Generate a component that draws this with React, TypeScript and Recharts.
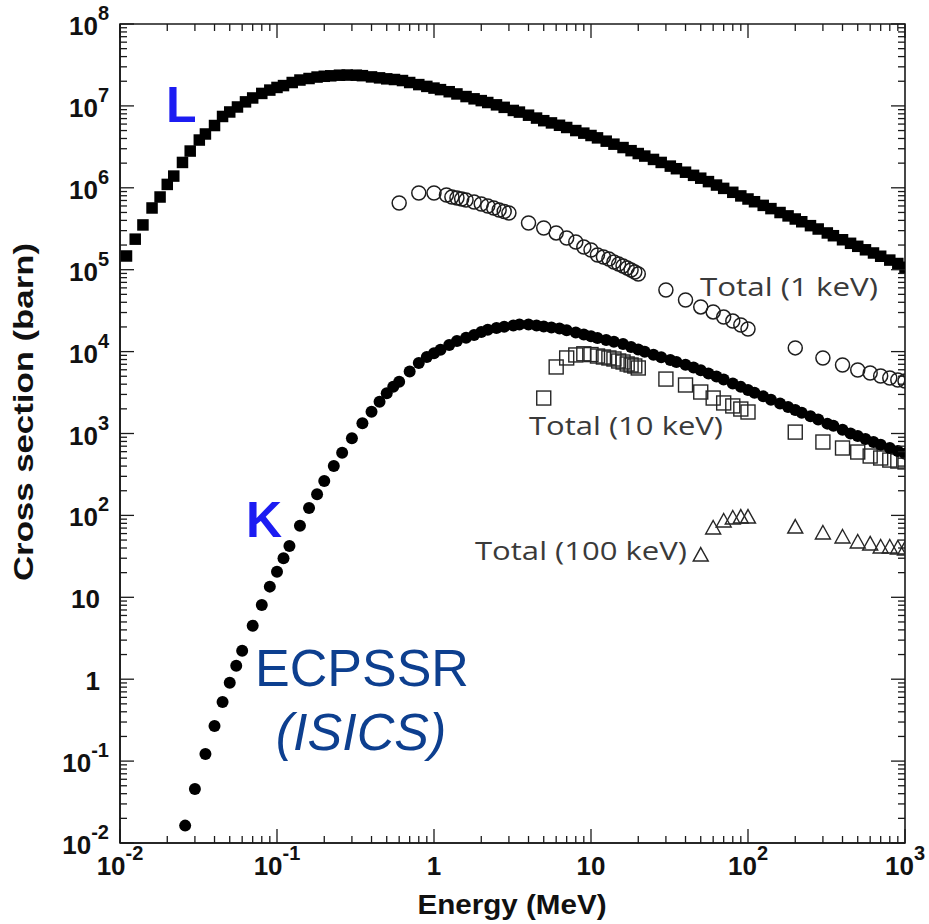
import React from 'react';
import { ScatterChart, Scatter, XAxis, YAxis, ReferenceArea } from 'recharts';

// ---------- data (energy in MeV, cross section in barn) ----------
const lEnergy = [
  0.011, 0.0125, 0.014, 0.016, 0.018, 0.02, 0.022, 0.025, 0.028, 0.032, 0.035, 0.04, 0.045, 0.05, 0.056, 0.063, 0.07, 0.08, 0.09,
  0.1, 0.11, 0.125, 0.14, 0.16, 0.18, 0.2, 0.22, 0.25, 0.28, 0.32, 0.35, 0.4, 0.45, 0.5, 0.56, 0.63, 0.7, 0.8, 0.9,
  1, 1.1, 1.25, 1.4, 1.6, 1.8, 2, 2.2, 2.5, 2.8, 3.2, 3.5, 4, 4.5, 5, 5.6, 6.3, 7, 8, 9,
  10, 11, 12.5, 14, 16, 18, 20, 22, 25, 28, 32, 35, 40, 45, 50, 56, 63, 70, 80, 90,
  100, 110, 125, 140, 160, 180, 200, 220, 250, 280, 320, 350, 400, 450, 500, 560, 630, 700, 800, 900,
  1000,
];
const lSigma = [
  1.47e5, 2.36e5, 3.52e5, 5.67e5, 7.72e5, 1.1e6, 1.39e6, 2.04e6, 2.81e6, 3.83e6, 4.54e6, 5.76e6, 7.43e6, 8.43e6, 9.7e6, 1.12e7, 1.25e7, 1.42e7, 1.56e7,
  1.68e7, 1.77e7, 1.93e7, 2.07e7, 2.16e7, 2.25e7, 2.3e7, 2.33e7, 2.37e7, 2.38e7, 2.37e7, 2.34e7, 2.26e7, 2.2e7, 2.14e7, 2.1e7, 2.04e7, 1.93e7, 1.82e7, 1.73e7,
  1.65e7, 1.58e7, 1.49e7, 1.4e7, 1.3e7, 1.22e7, 1.16e7, 1.1e7, 1.03e7, 9.6e6, 8.8e6, 8.4e6, 7.7e6, 7.1e6, 6.6e6, 6.2e6, 5.8e6, 5.45e6, 5.0e6, 4.65e6,
  4.35e6, 4.07e6, 3.71e6, 3.41e6, 3.1e6, 2.84e6, 2.62e6, 2.44e6, 2.22e6, 2.04e6, 1.84e6, 1.71e6, 1.55e6, 1.42e6, 1.31e6, 1.19e6, 1.08e6, 9.84e5, 8.81e5, 7.96e5,
  7.3e5, 6.76e5, 6.1e5, 5.57e5, 4.99e5, 4.54e5, 4.16e5, 3.85e5, 3.45e5, 3.14e5, 2.81e5, 2.6e5, 2.32e5, 2.1e5, 1.93e5, 1.75e5, 1.6e5, 1.46e5, 1.31e5, 1.19e5,
  1.07e5,
];

const kEnergy = [
  0.026, 0.03, 0.035, 0.04, 0.045, 0.05, 0.055, 0.06, 0.07, 0.08, 0.09, 0.1, 0.11, 0.12, 0.14, 0.16, 0.18, 0.2, 0.23, 0.26,
  0.3, 0.35, 0.4, 0.45, 0.5, 0.55, 0.6, 0.7, 0.8, 0.9,
  1, 1.1, 1.25, 1.4, 1.6, 1.8, 2, 2.2, 2.5, 2.8, 3.2, 3.5, 4, 4.5, 5, 5.6, 6.3, 7, 8, 9,
  10, 11, 12.5, 14, 16, 18, 20, 22, 25, 28, 32, 35, 40, 45, 50, 56, 63, 70, 80, 90,
  100, 110, 125, 140, 160, 180, 200, 220, 250, 280, 320, 350, 400, 450, 500, 560, 630, 700, 800, 900,
  1000,
];
const kSigma = [
  0.0163, 0.0456, 0.122, 0.268, 0.527, 0.906, 1.46, 2.23, 4.5, 8.05, 13.5, 20.5, 29.9, 42.3, 74.8, 123, 181, 263, 401, 583,
  873, 1333, 1845, 2445, 3097, 3727, 4290, 5710, 7260, 8590,
  9550, 1.05e4, 1.2e4, 1.35e4, 1.48e4, 1.6e4, 1.73e4, 1.85e4, 1.94e4, 2.01e4, 2.08e4, 2.14e4, 2.14e4, 2.08e4, 2.03e4, 1.97e4, 1.91e4, 1.82e4, 1.71e4, 1.62e4,
  1.54e4, 1.47e4, 1.39e4, 1.32e4, 1.24e4, 1.14e4, 1.06e4, 9970, 9140, 8510, 7890, 7480, 6930, 6410, 5910, 5420, 4950, 4550, 4080, 3710,
  3400, 3150, 2840, 2590, 2320, 2110, 1940, 1790, 1620, 1480, 1320, 1240, 1110, 1000, 931, 859, 789, 731, 665, 611,
  566,
];

const total1Energy = [
  0.6, 0.8, 1.0, 1.2, 1.3, 1.4, 1.5, 1.6, 1.8, 2.0, 2.2, 2.4, 2.6, 2.8, 3.0,
  4, 5, 6, 7, 8, 9, 10,
  11, 12, 13, 14, 15, 16, 17, 18, 19, 20,
  30, 40, 50, 60, 70, 80, 90, 100,
  200, 300, 400, 500, 600, 700, 800, 900, 1000,
];
const total1Sigma = [
  6.52e5, 8.64e5, 8.64e5, 8.17e5, 7.72e5, 7.5e5, 7.3e5, 7.1e5, 6.71e5, 6.34e5, 6.0e5, 5.67e5, 5.36e5, 5.14e5, 4.92e5,
  3.72e5, 3.23e5, 2.81e5, 2.44e5, 2.18e5, 1.89e5, 1.74e5,
  1.51e5, 1.43e5, 1.35e5, 1.24e5, 1.17e5, 1.11e5, 1.05e5, 9.91e4, 9.37e4, 8.86e4,
  5.65e4, 4.27e4, 3.51e4, 3.05e4, 2.64e4, 2.36e4, 2.11e4, 1.89e4,
  1.11e4, 8360, 6860, 5960, 5480, 5040, 4760, 4500, 4370,
];

const total10Energy = [
  5, 6, 7, 8, 9, 10, 11, 12, 13, 14, 15, 16, 17, 18, 19, 20,
  30, 40, 50, 60, 70, 80, 90, 100,
  200, 300, 400, 500, 600, 700, 800, 900, 1000,
];
const total10Sigma = [
  2710, 6490, 8360, 9100, 9400, 9200, 8830, 8590, 8360, 8120, 7680, 7460, 7060, 6860, 6670, 6310,
  4620, 3910, 3210, 2710, 2360, 2170, 1990, 1830,
  1040, 787, 665, 594, 531, 502, 474, 461, 449,
];

const total100Energy = [50, 60, 70, 80, 90, 100, 200, 300, 400, 500, 600, 700, 800, 900, 1000];
const total100Sigma = [32.8, 70.2, 85.5, 92.9, 95.5, 95.5, 72.1, 61.0, 54.5, 47.3, 44.8, 41.1, 41.1, 40.0, 38.9];

// ---------- ticks ----------
const xMajorTicks = [0.01, 0.1, 1, 10, 100, 1000];
const xTickBase = ['10', '10', '1', '10', '10', '10'];
const xTickExp = ['-2', '-1', '', '', '2', '3'];
const yMajorTicks = [0.01, 0.1, 1, 10, 100, 1e3, 1e4, 1e5, 1e6, 1e7, 1e8];
const yTickBase = ['10', '10', '1', '10', '10', '10', '10', '10', '10', '10', '10'];
const yTickExp = ['-2', '-1', '', '', '2', '3', '4', '5', '6', '7', '8'];
const minorMultipliers = [2, 3, 4, 5, 6, 7, 8, 9];

const withMinors = (majors: number[]) =>
  [
    ...majors,
    ...majors.slice(0, -1).flatMap((d) => minorMultipliers.map((m) => Number((m * d).toPrecision(6)))),
  ].sort((a, b) => a - b);

const xTicks = withMinors(xMajorTicks);
const yTicks = withMinors(yMajorTicks);

const zip = (e: number[], s: number[]) => e.map((v, i) => ({ e: v, s: s[i] }));
const lData = zip(lEnergy, lSigma);
const kData = zip(kEnergy, kSigma);
const t1Data = zip(total1Energy, total1Sigma);
const t10Data = zip(total10Energy, total10Sigma);
const t100Data = zip(total100Energy, total100Sigma);

// ---------- layout ----------
const CHART_W = 929;
const CHART_H = 924;
const Y_AXIS_W = 120;
const X_AXIS_H = 81;
const MARGIN = { top: 24, right: 24, bottom: 0, left: 0 };
const PLOT_W = CHART_W - Y_AXIS_W - MARGIN.right - MARGIN.left;
const PLOT_H = CHART_H - X_AXIS_H - MARGIN.top - MARGIN.bottom;
const MAJOR_LEN = 14;
const MINOR_LEN = 7;
const AX = '#1a1a1a';
const LABEL_FONT = "'Liberation Sans', Arial, Helvetica, sans-serif";
const NOTE_FONT = "'Open Sans', 'DejaVu Sans', sans-serif";

const XTick = (props: any) => {
  const { x, y, payload } = props;
  const i = xMajorTicks.indexOf(payload.value);
  const len = i >= 0 ? MAJOR_LEN : MINOR_LEN;
  return (
    <g>
      <line x1={x} x2={x} y1={y} y2={y - len} stroke={AX} strokeWidth={1.3} />
      <line x1={x} x2={x} y1={y - PLOT_H} y2={y - PLOT_H + len} stroke={AX} strokeWidth={1.3} />
      {i >= 0 && (
        <text x={x} y={y + 32} textAnchor="middle" fontFamily={LABEL_FONT} fontWeight="bold" fontSize={26} fill="#111">
          {xTickBase[i]}
          {xTickExp[i] ? (
            <tspan dy={-15} fontSize={20}>
              {xTickExp[i]}
            </tspan>
          ) : null}
        </text>
      )}
    </g>
  );
};

const YTick = (props: any) => {
  const { x, y, payload } = props;
  const i = yMajorTicks.indexOf(payload.value);
  const len = i >= 0 ? MAJOR_LEN : MINOR_LEN;
  const hasExp = i >= 0 && yTickExp[i] !== '';
  return (
    <g>
      <line x1={x} x2={x + len} y1={y} y2={y} stroke={AX} strokeWidth={1.3} />
      <line x1={x + PLOT_W} x2={x + PLOT_W - len} y1={y} y2={y} stroke={AX} strokeWidth={1.3} />
      {i >= 0 && (
        <text
          x={hasExp ? x - 11 : x - 20}
          y={y + 11}
          textAnchor="end"
          fontFamily={LABEL_FONT}
          fontWeight="bold"
          fontSize={26}
          fill="#111"
        >
          {yTickBase[i]}
          {hasExp ? (
            <tspan dy={-15} fontSize={20}>
              {yTickExp[i]}
            </tspan>
          ) : null}
        </text>
      )}
    </g>
  );
};

// ---------- marker shapes ----------
const FilledSquare = (p: any) =>
  p.cx == null ? <g /> : <rect x={p.cx - 5.75} y={p.cy - 5.75} width={11.5} height={11.5} fill="#000" />;
const FilledCircle = (p: any) => (p.cx == null ? <g /> : <circle cx={p.cx} cy={p.cy} r={6} fill="#000" />);
const OpenCircle = (p: any) =>
  p.cx == null ? <g /> : <circle cx={p.cx} cy={p.cy} r={7} fill="none" stroke="#1e1e1e" strokeWidth={1.5} />;
const OpenSquare = (p: any) =>
  p.cx == null ? (
    <g />
  ) : (
    <rect x={p.cx - 7} y={p.cy - 7} width={14} height={14} fill="none" stroke="#262626" strokeWidth={1.4} />
  );
const OpenTriangle = (p: any) =>
  p.cx == null ? (
    <g />
  ) : (
    <polygon
      points={`${p.cx},${p.cy - 7.5} ${p.cx + 7.5},${p.cy + 6} ${p.cx - 7.5},${p.cy + 6}`}
      fill="none"
      stroke="#262626"
      strokeWidth={1.4}
    />
  );

export default function App() {
  return (
    <div style={{ position: 'relative', width: CHART_W, height: CHART_H, overflow: 'hidden' }}>
      <style>{'html,body{margin:0;padding:0;overflow:hidden} .recharts-surface{overflow:visible}'}</style>
      <ScatterChart width={CHART_W} height={CHART_H} margin={MARGIN}>
        <XAxis
          dataKey="e"
          type="number"
          scale="log"
          domain={[0.01, 1000]}
          allowDataOverflow
          ticks={xTicks}
          interval={0}
          tick={<XTick />}
          tickLine={false}
          tickSize={0}
          tickMargin={0}
          height={X_AXIS_H}
          axisLine={{ stroke: AX, strokeWidth: 1.6 }}
        />
        <YAxis
          dataKey="s"
          type="number"
          scale="log"
          domain={[0.01, 1e8]}
          allowDataOverflow
          ticks={yTicks}
          interval={0}
          tick={<YTick />}
          tickLine={false}
          tickSize={0}
          tickMargin={0}
          width={Y_AXIS_W}
          axisLine={{ stroke: AX, strokeWidth: 1.6 }}
        />
        <ReferenceArea
          x1={0.01}
          x2={1000}
          y1={0.01}
          y2={1e8}
          fill="none"
          fillOpacity={0}
          stroke={AX}
          strokeWidth={1.6}
          ifOverflow="visible"
        />
        <Scatter name="Total (1 keV)" data={t1Data} shape={OpenCircle} isAnimationActive={false} />
        <Scatter name="Total (10 keV)" data={t10Data} shape={OpenSquare} isAnimationActive={false} />
        <Scatter name="Total (100 keV)" data={t100Data} shape={OpenTriangle} isAnimationActive={false} />
        <Scatter name="L" data={lData} shape={FilledSquare} isAnimationActive={false} />
        <Scatter name="K" data={kData} shape={FilledCircle} isAnimationActive={false} />
      </ScatterChart>
      <svg
        width={CHART_W}
        height={CHART_H}
        style={{ position: 'absolute', left: 0, top: 0, pointerEvents: 'none' }}
      >
        <text x={166} y={122} fontFamily={LABEL_FONT} fontWeight="bold" fontSize={50} fill="#1c1cf2">
          L
        </text>
        <text x={246} y={537} fontFamily={LABEL_FONT} fontWeight="bold" fontSize={50} fill="#1c1cf2">
          K
        </text>
        <text x={362} y={686} textAnchor="middle" fontFamily={LABEL_FONT} fontSize={52} fill="#0d3f8f">
          ECPSSR
        </text>
        <text x={361} y={750} textAnchor="middle" fontFamily={LABEL_FONT} fontStyle="italic" fontSize={52} fill="#0d3f8f">
          (ISICS)
        </text>
        <text x={700} y={296} fontFamily={NOTE_FONT} fontSize={26} fill="#3a3a3a" textLength={178} lengthAdjust="spacingAndGlyphs">
          Total (1 keV)
        </text>
        <text x={529} y={435} fontFamily={NOTE_FONT} fontSize={26} fill="#3a3a3a" textLength={194} lengthAdjust="spacingAndGlyphs">
          Total (10 keV)
        </text>
        <text x={475} y={560} fontFamily={NOTE_FONT} fontSize={26} fill="#3a3a3a" textLength={212} lengthAdjust="spacingAndGlyphs">
          Total (100 keV)
        </text>
        <text
          x={512}
          y={914}
          textAnchor="middle"
          fontFamily={LABEL_FONT}
          fontWeight="bold"
          fontSize={28}
          fill="#111"
          textLength={189}
          lengthAdjust="spacingAndGlyphs"
        >
          Energy (MeV)
        </text>
        <text
          transform="translate(33, 412) rotate(-90)"
          textAnchor="middle"
          fontFamily={LABEL_FONT}
          fontWeight="bold"
          fontSize={28}
          fill="#111"
          textLength={338}
          lengthAdjust="spacingAndGlyphs"
        >
          Cross section (barn)
        </text>
      </svg>
    </div>
  );
}
